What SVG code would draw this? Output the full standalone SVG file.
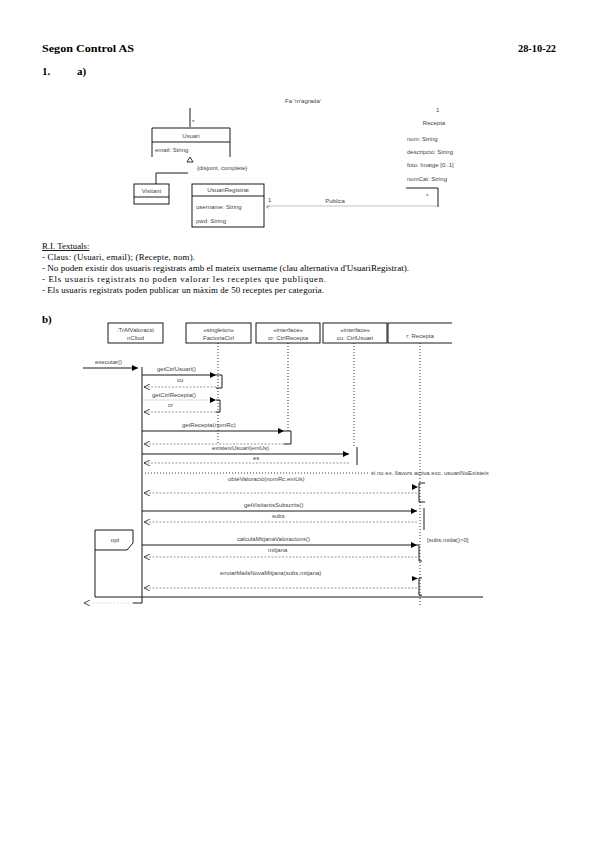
<svg xmlns="http://www.w3.org/2000/svg" width="599" height="848" viewBox="0 0 599 848">
<style>
.hd{font-family:"Liberation Serif",serif;font-weight:bold;font-size:11px;fill:#000}
.rt{font-family:"Liberation Serif",serif;font-size:8.8px;fill:#000}
.sm{font-family:"Liberation Sans",Arial,sans-serif;font-size:6px;fill:#444}
.ln{stroke:#000;stroke-width:0.9;fill:none}
.lg{stroke:#999;stroke-width:0.6;fill:none}
.dot{stroke:#000;stroke-width:0.8;stroke-dasharray:1,2;fill:none}
.msg{stroke:#000;stroke-width:0.9;fill:none;marker-end:url(#fa)}
.ret{stroke:#555;stroke-width:0.6;stroke-dasharray:2,1.5;fill:none;marker-end:url(#oa)}
</style>
<defs>
<marker id="fa" markerWidth="6" markerHeight="6" refX="6" refY="3" orient="auto" markerUnits="userSpaceOnUse"><path d="M0,0 L6,3 L0,6 z" fill="#000"/></marker>
<marker id="oa" markerWidth="6" markerHeight="6" refX="6" refY="3" orient="auto" markerUnits="userSpaceOnUse"><path d="M0,0 L6,3 L0,6" fill="none" stroke="#000" stroke-width="0.7"/></marker>
</defs>
<rect width="599" height="848" fill="#fff"/>

<!-- header -->
<text class="hd" x="42" y="52" textLength="92" lengthAdjust="spacingAndGlyphs">Segon Control AS</text>
<text class="hd" x="518" y="52" textLength="38" lengthAdjust="spacingAndGlyphs">28-10-22</text>
<text class="hd" x="42" y="75">1.</text>
<text class="hd" x="77" y="75">a)</text>

<!-- class diagram -->
<g id="class-diagram">
<text class="sm" x="303" y="103" text-anchor="middle">Fa 'm'agrada'</text>
<g id="usuari">
<path class="ln" d="M152,157 V128 H230 V157"/>
<line class="ln" x1="152" y1="142" x2="230" y2="142"/>
<text class="sm" x="191" y="138" text-anchor="middle">Usuari</text>
<text class="sm" x="155" y="152">email: String</text>
</g>
<g id="visitant">
<rect class="ln" x="134" y="184" width="35" height="20"/>
<line class="ln" x1="134" y1="197" x2="169" y2="197"/>
<text class="sm" x="151.5" y="193" text-anchor="middle">Visitant</text>
</g>
<g id="usuariregistrat">
<rect class="ln" x="192" y="184" width="72" height="43"/>
<line class="ln" x1="192" y1="196" x2="264" y2="196"/>
<text class="sm" x="228" y="192" text-anchor="middle">UsuariRegistrat</text>
<text class="sm" x="196" y="209">username: String</text>
<text class="sm" x="196" y="223">pwd: String</text>
</g>
<g id="recepta">
<text class="sm" x="434" y="125" text-anchor="middle">Recepta</text>
<text class="sm" x="407" y="141">nom: String</text>
<text class="sm" x="407" y="154">descripció: String</text>
<text class="sm" x="407" y="167">foto: Imatge [0..1]</text>
<text class="sm" x="407" y="181">nomCat: String</text>
<line class="ln" x1="406" y1="188" x2="438" y2="188"/>
</g>
<g id="class-connectors">
<line class="ln" x1="190" y1="108" x2="190" y2="127"/>
<text class="sm" x="192" y="124">*</text>
<path d="M190,157 L193,162 L187,162 z" fill="none" stroke="#000" stroke-width="0.8"/>
<text class="sm" x="197" y="170">{disjoint, complete}</text>
<path class="ln" d="M156,184 V173 H188"/>
<line class="lg" x1="266" y1="206" x2="437" y2="206"/>
<text class="sm" x="268" y="202">1</text>
<text class="sm" x="266" y="209">&lt;</text>
<text class="sm" x="335" y="203" text-anchor="middle">Publica</text>
<text class="sm" x="436" y="112">1</text>
<text class="sm" x="426" y="198">*</text>
<line class="ln" x1="438" y1="188" x2="438" y2="207"/>
</g>
</g>

<!-- textual constraints -->
<g id="ri">
<text class="rt" x="42" y="249" text-decoration="underline">R.I. Textuals:</text>
<text class="rt" x="42" y="260" textLength="153">- Claus: (Usuari, email); (Recepte, nom).</text>
<text class="rt" x="42" y="271" textLength="367" lengthAdjust="spacingAndGlyphs">- No poden existir dos usuaris registrats amb el mateix username (clau alternativa d'UsuariRegistrat).</text>
<text class="rt" x="42" y="282" textLength="284">- Els usuaris registrats no poden valorar les receptes que publiquen.</text>
<text class="rt" x="42" y="293" textLength="282">- Els usuaris registrats poden publicar un màxim de 50 receptes per categoria.</text>
</g>

<text class="hd" x="42" y="323">b)</text>

<!-- sequence diagram -->
<g id="ll-tr">
<rect class="ln" x="108" y="323" width="55" height="20"/>
<text class="sm" x="135.5" y="332" text-anchor="middle">:TrAfValoració</text>
<text class="sm" x="135.5" y="340" text-anchor="middle">nCliud</text>
<line class="ln" x1="142" y1="367" x2="142" y2="603"/>
<line class="ln" x1="133" y1="603" x2="142" y2="603"/>
</g>
<g id="ll-factoria">
<rect class="ln" x="186" y="323" width="65" height="20"/>
<text class="sm" x="218.5" y="332" text-anchor="middle">«singleton»</text>
<text class="sm" x="218.5" y="340" text-anchor="middle">FactoriaCtrl</text>
<line class="dot" x1="218" y1="343" x2="218" y2="445"/>
</g>
<g id="ll-ctrlrecepta">
<rect class="ln" x="256" y="323" width="64" height="20"/>
<text class="sm" x="288" y="332" text-anchor="middle">«interface»</text>
<text class="sm" x="288" y="340" text-anchor="middle">cr: CtrlRecepta</text>
<line class="dot" x1="288" y1="343" x2="288" y2="431"/>
</g>
<g id="ll-ctrlusuari">
<rect class="ln" x="323" y="323" width="64" height="20"/>
<text class="sm" x="355" y="332" text-anchor="middle">«interface»</text>
<text class="sm" x="355" y="340" text-anchor="middle">cu: CtrlUsuari</text>
<line class="dot" x1="354" y1="343" x2="354" y2="447"/>
</g>
<g id="ll-recepta">
<path class="ln" d="M452,323 H388 V343 H452"/>
<text class="sm" x="420" y="338" text-anchor="middle">r: Recepta</text>
<line class="dot" x1="420" y1="343" x2="420" y2="606"/>
</g>

<g id="connectors">
<line class="msg" x1="83" y1="368" x2="138" y2="368"/>
<text class="sm" x="95" y="364">executar()</text>
<line class="msg" x1="142" y1="375" x2="216" y2="375"/>
<text class="sm" x="157" y="371">getCtrlUsuari()</text>
<path class="ln" d="M216,375 H222 V388 H216"/>
<text class="sm" x="177" y="382">cu</text>
<line class="ret" x1="216" y1="387" x2="144" y2="387"/>
<text class="sm" x="152" y="397">getCtrlRecepta()</text>
<line class="msg" x1="142" y1="400" x2="216" y2="400" stroke-opacity="0.15"/>
<path class="ln" d="M216,400 H220 V412 H216"/>
<text class="sm" x="168" y="407">cr</text>
<line class="ret" x1="216" y1="412" x2="144" y2="412"/>
<line class="msg" x1="142" y1="431" x2="284" y2="431"/>
<text class="sm" x="182" y="427">getRecepta(nomRc)</text>
<path class="ln" d="M284,431 H291 V444 H284"/>
<line class="ret" x1="284" y1="444" x2="144" y2="444"/>
<line class="msg" x1="142" y1="454" x2="349" y2="454"/>
<text class="sm" x="212" y="450">existeixUsuari(emUs)</text>
<line class="ln" x1="357" y1="447" x2="357" y2="465"/>
<text class="sm" x="253" y="460">es</text>
<line class="ret" x1="349" y1="463" x2="144" y2="463"/>
<line class="dot" x1="145" y1="473" x2="370" y2="473" stroke-dasharray="1,3.5"/>
<text class="sm" x="371" y="475">si no ex. llavors activa exc. usuariNoExisteix</text>
<text class="sm" x="228" y="481">obtéValoració(nomRc,emUs)</text>
<path d="M412,484 L418,487 L412,490 z" fill="#000"/>
<path class="ln" d="M425,483 H419 V502 H425"/>
<line class="ret" x1="417" y1="493" x2="144" y2="493"/>
<line class="msg" x1="142" y1="511" x2="417" y2="511"/>
<text class="sm" x="244" y="507">getVisitantsSubscrits()</text>
<line class="ln" x1="424" y1="508" x2="424" y2="530"/>
<text class="sm" x="272" y="518">subs</text>
<line class="ret" x1="417" y1="522" x2="144" y2="522"/>
<path class="ln" d="M95,597 V530 H133 V543 L127,550 H95"/>
<text class="sm" x="115" y="542" text-anchor="middle">opt</text>
<line class="ln" x1="95" y1="597" x2="483" y2="597"/>
<text class="sm" x="427" y="542">[subs.mida()&gt;0]</text>
<line class="msg" x1="142" y1="545" x2="417" y2="545"/>
<text class="sm" x="237" y="541">calculaMitjanaValoracions()</text>
<path class="ln" d="M417,545 H419 V561 H422"/>
<text class="sm" x="268" y="552">mitjana</text>
<line class="ret" x1="417" y1="557" x2="144" y2="557"/>
<text class="sm" x="220" y="575">enviarMailsNovaMitjana(subs,mitjana)</text>
<path d="M412,576 L418,578.5 L412,581 z" fill="#000"/>
<path class="ln" d="M422,578 H419 V595 H422"/>
<line class="ret" x1="417" y1="588" x2="144" y2="588"/>
<line class="ret" x1="133" y1="603" x2="84" y2="603" stroke-opacity="0.3"/>
</g>
</svg>
